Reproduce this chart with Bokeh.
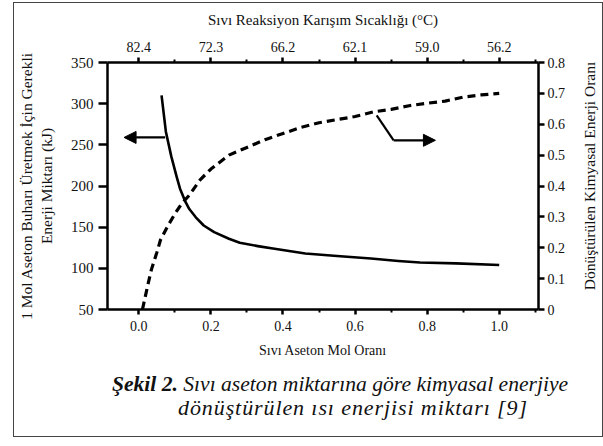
from bokeh.plotting import figure
from bokeh.models import Range1d, LinearAxis, FixedTicker, Arrow, NormalHead, Div, InlineStyleSheet
from bokeh.layouts import column, row
from bokeh.embed import file_html
from bokeh.resources import INLINE

# ---- data ----
x_energy = [0.063, 0.075, 0.09, 0.105, 0.114, 0.128, 0.14, 0.158, 0.18, 0.209, 0.25,
            0.28, 0.33, 0.372, 0.462, 0.55, 0.644, 0.72, 0.78, 0.88, 1.0]
energy_kj = [310, 266, 236, 211, 197, 182, 172, 162, 152, 144, 136,
             131, 127, 124, 118, 115, 112, 109, 107, 106, 104]

x_ratio = [0.01, 0.025, 0.035, 0.05, 0.06, 0.08, 0.1, 0.12, 0.14, 0.17, 0.2,
           0.25, 0.3, 0.35, 0.4, 0.45, 0.5, 0.55, 0.6, 0.65, 0.7, 0.75, 0.8,
           0.85, 0.9, 0.95, 1.0]
chem_ratio = [0.0, 0.08, 0.13, 0.185, 0.225, 0.27, 0.31, 0.345, 0.37, 0.42, 0.455,
              0.50, 0.525, 0.55, 0.57, 0.59, 0.605, 0.615, 0.625, 0.64, 0.648, 0.66, 0.668,
              0.675, 0.688, 0.695, 0.70]

bottom_ticks = [0.0, 0.2, 0.4, 0.6, 0.8, 1.0]
bottom_labels = ["0.0", "0.2", "0.4", "0.6", "0.8", "1.0"]
minor_x_ticks = [0.1, 0.3, 0.5, 0.7, 0.9, 1.1]
temp_labels = ["82.4", "72.3", "66.2", "62.1", "59.0", "56.2"]
left_ticks = [50, 100, 150, 200, 250, 300, 350]
right_ticks = [0, 0.1, 0.2, 0.3, 0.4, 0.5, 0.6, 0.7, 0.8]
right_labels = ["0", "0.1", "0.2", "0.3", "0.4", "0.5", "0.6", "0.7", "0.8"]

# arrow annotations (data units)
left_arrow_x = [0.073, -0.041]
left_arrow_y = [259, 259]
right_arrow_x = [0.66, 0.707, 0.823]
right_arrow_y = [0.629, 0.548, 0.548]

right_axis_title = "Dönüştürülen Kimyasal Enerji Oranı"
caption_bold = "Şekil 2."
caption_line1 = "Sıvı aseton miktarına göre kimyasal enerjiye"
caption_line2 = "dönüştürülen ısı enerjisi miktarı [9]"

SERIF = "Liberation Serif"
X0, X1 = -0.087, 1.109
Y0, Y1 = 50, 350

p = figure(width=566, height=362, x_range=Range1d(X0, X1), y_range=Range1d(Y0, Y1),
           output_backend="svg", toolbar_location=None, margin=0,
           min_border_left=84, min_border_right=42, min_border_top=59, min_border_bottom=56)
p.xgrid.visible = False
p.ygrid.visible = False
p.outline_line_color = None
p.background_fill_color = "white"
p.border_fill_color = "white"
p.extra_y_ranges = {"ratio": Range1d(0, 0.8)}


def style_axis(ax, tick_font="14px", label_font="14px"):
    ax.axis_line_width = 2.5
    ax.axis_line_color = "black"
    ax.major_tick_line_width = 2.5
    ax.major_tick_line_color = "black"
    ax.major_tick_out = 5
    ax.major_tick_in = 0
    ax.minor_tick_line_width = 2
    ax.minor_tick_line_color = "black"
    ax.minor_tick_out = 3
    ax.minor_tick_in = 0
    ax.major_label_text_font = SERIF
    ax.major_label_text_font_size = tick_font
    ax.major_label_text_color = "#111"
    ax.axis_label_text_font = SERIF
    ax.axis_label_text_font_size = label_font
    ax.axis_label_text_font_style = "normal"
    ax.axis_label_text_color = "#111"


# bottom axis
xa = p.xaxis[0]
xa.ticker = FixedTicker(ticks=bottom_ticks, minor_ticks=minor_x_ticks)
xa.major_label_overrides = dict(zip(bottom_ticks, bottom_labels))
xa.axis_label = "Sıvı Aseton Mol Oranı"
style_axis(xa)
xa.major_label_standoff = 6
xa.axis_label_standoff = 9

# left axis
ya = p.yaxis[0]
ya.ticker = FixedTicker(ticks=left_ticks, minor_ticks=[])
ya.axis_label = "1 Mol Aseton Buharı Üretmek İçin Gerekli\nEnerji Miktarı (kJ)"
style_axis(ya, tick_font="15px", label_font="15.5px")
ya.major_tick_out = 9
ya.major_label_standoff = 5
ya.axis_label_standoff = 13

# top axis (temperature)
top = LinearAxis(ticker=FixedTicker(ticks=bottom_ticks, minor_ticks=minor_x_ticks),
                 major_label_overrides=dict(zip(bottom_ticks, temp_labels)),
                 axis_label="Sıvı Reaksiyon Karışım Sıcaklığı (°C)")
style_axis(top, label_font="15px")
top.major_label_standoff = 6
top.axis_label_standoff = 11
p.add_layout(top, "above")

# right axis (title drawn beside it, reading bottom-to-top)
ra = LinearAxis(y_range_name="ratio", ticker=FixedTicker(ticks=right_ticks, minor_ticks=[]),
                major_label_overrides=dict(zip(right_ticks, right_labels)))
style_axis(ra)
ra.major_tick_out = 6
ra.major_label_standoff = 3
p.add_layout(ra, "right")

# curves
p.line(x_energy, energy_kj, line_color="black", line_width=2.6, line_join="round")
p.line(x_ratio, chem_ratio, y_range_name="ratio", line_color="black", line_width=3.2,
       line_dash="8 5")

# arrows
p.add_layout(Arrow(end=NormalHead(size=12, fill_color="black", line_color="black"),
                   x_start=left_arrow_x[0], y_start=left_arrow_y[0],
                   x_end=left_arrow_x[1], y_end=left_arrow_y[1],
                   line_width=2.2, line_color="black"))
p.line(right_arrow_x[:2], right_arrow_y[:2], y_range_name="ratio",
       line_color="black", line_width=2.2)
p.add_layout(Arrow(end=NormalHead(size=12, fill_color="black", line_color="black"),
                   x_start=right_arrow_x[1], y_start=right_arrow_y[1],
                   x_end=right_arrow_x[2], y_end=right_arrow_y[2],
                   y_range_name="ratio", line_width=2.2, line_color="black"))

right_html = (
    "<div style=\"position:relative;width:22px;height:362px;\">"
    "<div style=\"position:absolute;left:10px;top:173px;transform:translate(-50%,-50%) rotate(-90deg);"
    "white-space:nowrap;font-family:'Liberation Serif',serif;font-size:15.5px;color:#111;\">"
    f"{right_axis_title}</div></div>"
)
rdiv = Div(text=right_html, width=22, height=362, margin=0,
           styles={"background": "white"})

line_css = ("font-family:'Liberation Serif',serif;font-style:italic;"
            "line-height:24px;color:#111;text-align:center;width:588px;box-sizing:border-box;"
            "white-space:nowrap;")
caption_html = (
    f"<div style=\"{line_css}font-size:21.6px;padding-left:64px;padding-top:7px;\">"
    f"<b>{caption_bold}</b> {caption_line1}</div>"
    f"<div style=\"{line_css}font-size:22px;padding-left:90px;letter-spacing:0.9px;\">"
    f"{caption_line2}</div>"
)
cap = Div(text=caption_html, width=588, height=71, margin=0,
          styles={"background": "white"})

layout = column(row(p, rdiv, spacing=0, margin=0), cap, spacing=0, margin=0)
layout.styles = {"position": "absolute", "left": "14px", "top": "3px",
                 "outline": "1px solid #444"}
layout.stylesheets = [InlineStyleSheet(css=":host { outline: 1px solid #444; }")]

open("out.html", "w").write(file_html(layout, INLINE))
